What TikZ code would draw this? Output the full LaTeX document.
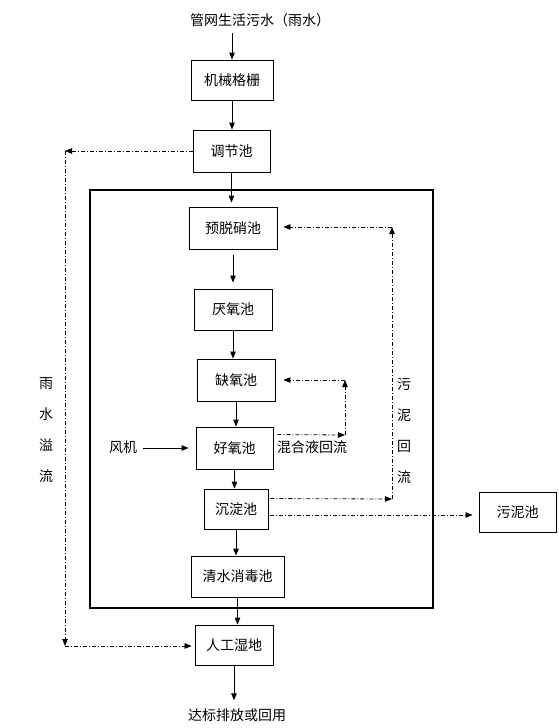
\documentclass[tikz,border=0pt]{standalone}
\usepackage{fontspec}
\setmainfont{Noto Sans CJK SC}
\usetikzlibrary{arrows.meta,calc}
\begin{document}
\begin{tikzpicture}[x=1pt,y=-1pt,
  box/.style={draw, line width=0.9pt, inner sep=0pt, font=\fontsize{14}{16}\selectfont},
  lbl/.style={inner sep=0pt, font=\fontsize{14}{16}\selectfont},
  vlbl/.style={inner sep=0pt, align=center, font=\fontsize{14}{31}\selectfont},
  flow/.style={line width=0.9pt, -{Triangle[length=7pt,width=5.5pt]}},
  dd/.style={line width=0.8pt, dash pattern=on 4pt off 2pt on 1pt off 2pt},
  ddarrow/.style={dd, -{Triangle[length=7pt,width=5.5pt]}}]
\useasboundingbox (0,0) rectangle (558,728);
% outer frame
\node[draw, line width=2pt, minimum width=343pt, minimum height=418pt, inner sep=0pt] (core) at (261.5,399) {};
% boxes
\node[box, minimum width=82pt, minimum height=40pt] (grid) at (232,80) {机械格栅};
\node[box, minimum width=77pt, minimum height=42pt] (reg) at (231.5,151) {调节池};
\node[box, minimum width=88pt, minimum height=42pt] (pre) at (233,228) {预脱硝池};
\node[box, minimum width=78pt, minimum height=41pt] (ana) at (233,309.5) {厌氧池};
\node[box, minimum width=78pt, minimum height=42pt] (anox) at (236,380) {缺氧池};
\node[box, minimum width=77pt, minimum height=42pt] (aer) at (234.5,448) {好氧池};
\node[box, minimum width=64pt, minimum height=40pt] (sed) at (236,509) {沉淀池};
\node[box, minimum width=93pt, minimum height=41pt] (dis) at (237.5,576.5) {清水消毒池};
\node[box, minimum width=78pt, minimum height=40pt] (wet) at (234,645) {人工湿地};
\node[box, minimum width=77pt, minimum height=40pt] (sludge) at (517.5,512) {污泥池};
% labels
\node[lbl] (src) at (260,20) {管网生活污水（雨水）};
\node[lbl] (out) at (237,715) {达标排放或回用};
\node[lbl] (fan) at (123,447) {风机};
\node[lbl] (mix) at (312,447) {混合液回流};
\node[vlbl] (rain) at (46,430.5) {雨\\水\\溢\\流};
\node[vlbl] (ret) at (404,430.5) {污\\泥\\回\\流};
% main flow
\draw[flow] ($(src.south -| grid.north)+(0,6)$) -- (grid.north);
\draw[flow] (grid.south) -- (grid.south |- reg.north);
\draw[flow] (reg.south) -- ($(reg.south |- pre.north)+(0,-4)$);
\draw[flow] ($(pre.south)+(0,6)$) -- ($(pre.south |- ana.north)+(0,-6)$);
\draw[flow] (ana.south) -- (ana.south |- anox.north);
\draw[flow] (anox.south) -- (anox.south |- aer.north);
\draw[flow] (aer.south) -- (aer.south |- sed.north);
\draw[flow] (sed.south) -- (sed.south |- dis.north);
\draw[flow] (dis.south) -- (dis.south |- wet.north);
\draw[flow] (wet.south) -- ($(wet.south |- out.north)+(0,-8)$);
\draw[flow] ($(fan.east)+(6,1)$) -- ($(aer.west)+(-7,0)$);
% rain overflow
\coordinate (r1) at (65,151);
\coordinate (r2) at (65,646);
\draw[ddarrow] (reg.west) -- (r1);
\draw[ddarrow] (r1) -- (r2);
\draw[ddarrow] (r2) -- ($(wet.west)+(-3,1)$);
% sludge return
\coordinate (s1) at (392,499);
\coordinate (s2) at (392,227);
\draw[ddarrow] ($(sed.north east)+(2,10)$) -- (s1);
\draw[ddarrow] (s1) -- (s2);
\draw[ddarrow] (s2) -- ($(pre.east)+(6,-1)$);
\coordinate (sp) at ($(sludge.west)+(-6,3)$);
\draw[ddarrow] ($(sed.east)+(2,6)$) -- (sp);
% mixed liquor return
\coordinate (m1) at (345,435);
\coordinate (m2) at (345,380);
\draw[ddarrow] ($(aer.north east)+(4,8)$) -- (m1);
\draw[ddarrow] (m1) -- (m2);
\draw[ddarrow] (m2) -- ($(anox.east)+(8,0)$);
\end{tikzpicture}
\end{document}
